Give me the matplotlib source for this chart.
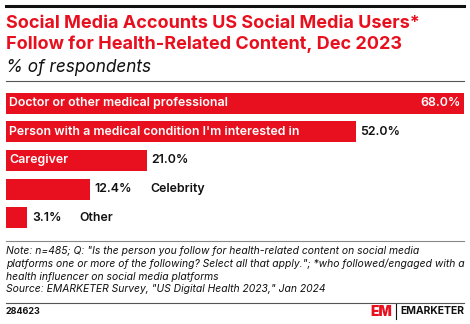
import matplotlib
matplotlib.use("Agg")
import matplotlib.pyplot as plt
from matplotlib.lines import Line2D

categories = ["Doctor or other medical professional",
              "Person with a medical condition I'm interested in",
              "Caregiver", "Celebrity", "Other"]
values = [68.0, 52.0, 21.0, 12.4, 3.1]
inside_label = [True, True, True, False, False]

RED = "#E8101E"
W, H = 470, 324
FONT = "Inter"
plt.rcParams['font.family'] = [FONT, 'DejaVu Sans']

fig = plt.figure(figsize=(W/100, H/100), dpi=100)

def fx(x): return x / W
def fy(y): return 1 - y / H

def hline(y, x0, x1, lw, color):
    fig.add_artist(Line2D([fx(x0), fx(x1)], [fy(y), fy(y)], lw=lw, color=color,
                          transform=fig.transFigure))

hline(6, 6, 464, 2.2, "#111111")
fig.text(fx(6), fy(23), "Social Media Accounts US Social Media Users*", color=RED,
         fontsize=13.0, fontweight="bold", va="center", ha="left")
fig.text(fx(6), fy(44), "Follow for Health-Related Content, Dec 2023", color=RED,
         fontsize=13.0, fontweight="bold", va="center", ha="left")
fig.text(fx(6), fy(67), "% of respondents", color="#111111", fontsize=12.4,
         fontstyle="italic", va="center", ha="left")
hline(81, 6, 464, 0.8, "#555555")

ax = fig.add_axes([fx(6), fy(232), fx(464) - fx(6), fy(89) - fy(232)])
ypos = list(range(len(categories)))
ax.barh(ypos, values, height=0.74, color=RED, left=0)
ax.set_xlim(0, 68)
ax.set_ylim(4.5, -0.5)
ax.axis("off")

px_unit = 68 / 458.0
LFS = 8.9
fig.canvas.draw()
renderer = fig.canvas.get_renderer()
for i, (c, v, ins) in enumerate(zip(categories, values, inside_label)):
    if ins:
        ax.text(3 * px_unit, i, c, color="white", fontsize=LFS, fontweight="semibold",
                va="center", ha="left")
        if v >= 68:
            ax.text(v - 3 * px_unit, i, f"{v:.1f}%", color="white", fontsize=LFS,
                    fontweight="semibold", va="center", ha="right")
        else:
            ax.text(v + 4 * px_unit, i, f"{v:.1f}%", color="#111111", fontsize=LFS,
                    fontweight="semibold", va="center", ha="left")
    else:
        t = ax.text(v + 5 * px_unit, i, f"{v:.1f}%", color="#111111", fontsize=LFS,
                    fontweight="semibold", va="center", ha="left")
        wpx = t.get_window_extent(renderer).width
        ax.text(v + (5 + wpx + 18) * px_unit, i, c, color="#111111", fontsize=LFS,
                fontweight="semibold", va="center", ha="left")

hline(241, 6, 464, 0.8, "#888888")
notes = ["Note: n=485; Q: \"Is the person you follow for health-related content on social media",
         "platforms one or more of the following? Select all that apply.\"; *who followed/engaged with a",
         "health influencer on social media platforms",
         "Source: EMARKETER Survey, \"US Digital Health 2023,\" Jan 2024"]
for k, line in enumerate(notes):
    fig.text(fx(6), fy(251.5 + k * 12.6), line, color="#111111", fontsize=7.45,
             fontstyle="italic", va="center", ha="left")
hline(303, 6, 464, 0.8, "#555555")
fig.text(fx(6), fy(311.5), "284623", color="#111111", fontsize=6.5,
         fontweight="bold", va="center", ha="left")
fig.text(fx(370), fy(311.5), "EM", color=RED, fontsize=10, fontweight="black",
         va="center", ha="left")
fig.add_artist(Line2D([fx(396), fx(396)], [fy(303.5), fy(319)], lw=0.8, color="#111111",
                      transform=fig.transFigure))
fig.text(fx(464), fy(311.5), "EMARKETER", color="#111111", fontsize=7.5,
         fontweight="bold", va="center", ha="right")

fig.savefig("out.png", dpi=100)
